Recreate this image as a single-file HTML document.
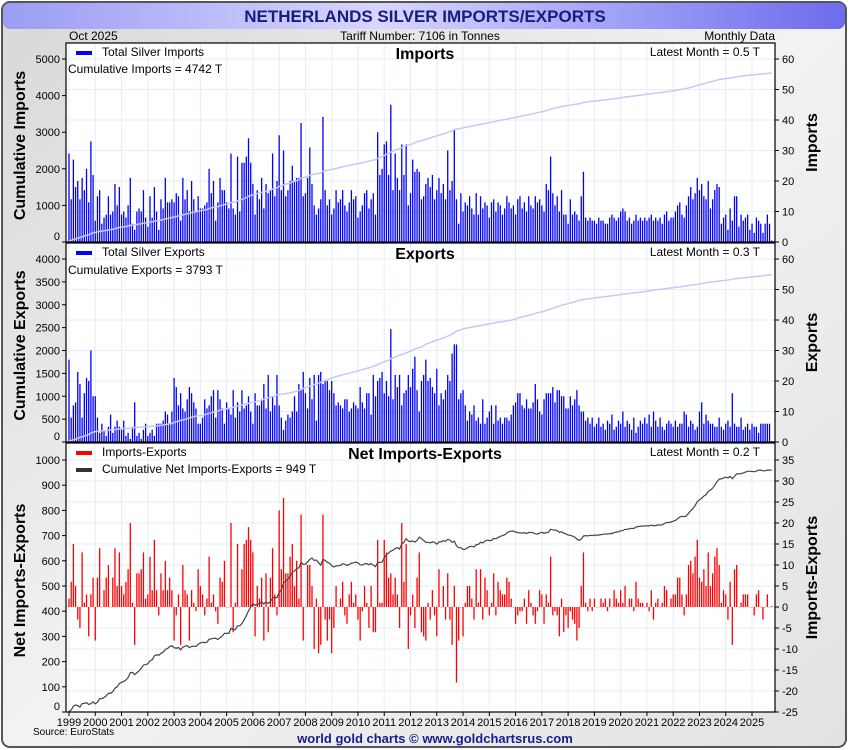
<!DOCTYPE html>
<html><head><meta charset="utf-8"><title>Netherlands Silver Imports/Exports</title>
<style>
html,body{margin:0;padding:0;background:#fff;}
svg{display:block;font-family:"Liberation Sans",Arial,sans-serif;}
</style></head>
<body>
<svg id="chart" width="850" height="750" viewBox="0 0 850 750" xmlns="http://www.w3.org/2000/svg">
<defs>
<linearGradient id="bg" x1="0" y1="0" x2="1" y2="1"><stop offset="0" stop-color="#d8d8d8"/><stop offset="0.5" stop-color="#f2f2f2"/><stop offset="1" stop-color="#e2e2e2"/></linearGradient>
<linearGradient id="tg" x1="0" y1="0" x2="1" y2="0"><stop offset="0" stop-color="#9c9cf4"/><stop offset="0.45" stop-color="#d6d6ff"/><stop offset="1" stop-color="#6c6cee"/></linearGradient>
</defs>
<rect x="2" y="2" width="844" height="745" rx="8" fill="url(#bg)" stroke="#555" stroke-width="2"/>
<rect x="3" y="3" width="842" height="26" rx="7" fill="url(#tg)"/>
<text x="425" y="22" text-anchor="middle" font-size="17" font-weight="bold" fill="#1a1a80">NETHERLANDS SILVER IMPORTS/EXPORTS</text>
<text x="69" y="40" font-size="12">Oct  2025</text>
<text x="420" y="40" text-anchor="middle" font-size="12">Tariff Number: 7106 in Tonnes</text>
<text x="775" y="40" text-anchor="end" font-size="12">Monthly Data</text>
<g id="panels"></g>
<text x="33" y="735" font-size="10">Source: EuroStats</text>
<text x="435" y="743" text-anchor="middle" font-size="13" font-weight="bold" fill="#1a1a90">world gold charts © www.goldchartsrus.com</text>
</svg>
<script>
const imports = [
29,14,27,18,20,14,21,17,24,13,33,22,
7,15,17,6,8,9,15,9,10,19,12,18,
9,10,8,12,21,6,4,10,11,10,17,8,
5,15,8,18,10,4,14,11,21,13,13,14,
13,16,15,7,21,14,17,10,20,14,10,15,
11,11,12,13,24,16,20,7,13,21,17,17,
13,11,29,11,9,28,10,26,26,28,34,26,
19,9,17,14,21,11,19,16,17,29,15,20,
35,17,30,15,17,20,25,20,21,21,39,15,
16,21,31,19,12,9,11,14,41,17,12,14,
9,11,17,13,14,17,12,10,13,17,14,15,
8,10,12,16,17,11,14,16,9,36,22,24,
32,33,22,45,17,29,21,17,32,22,32,12,
16,27,23,24,23,14,15,19,21,18,22,14,
17,21,16,19,14,30,17,20,37,14,6,16,
10,13,12,15,11,9,16,9,15,11,13,12,
8,13,14,10,13,12,9,11,15,13,11,12,
9,14,15,11,13,10,15,12,11,15,13,14,
12,10,19,17,28,16,12,15,10,17,9,9,
6,14,9,10,9,7,15,23,8,7,8,7,
7,6,8,7,7,6,6,8,9,8,7,8,
10,11,10,7,8,6,7,9,7,8,7,8,
7,8,9,7,8,7,8,6,9,10,7,8,
8,10,12,13,9,8,12,15,18,14,16,21,
17,19,15,14,20,11,14,17,19,18,6,8,
9,4,11,7,15,15,5,9,7,8,9,4,
6,3,8,7,6,3,6,9,6,0.5];
const exports_ = [
27,8,12,13,23,19,8,16,21,20,30,15,
15,8,3,6,4,2,5,9,3,5,7,5,
4,7,2,3,1,5,13,2,3,1,4,6,
2,3,4,2,6,6,6,7,10,9,6,10,
21,18,12,16,11,10,14,18,16,13,11,6,
6,8,14,11,12,15,17,8,17,14,11,6,
13,11,9,17,8,13,10,17,11,12,15,10,
6,16,12,12,14,19,11,22,10,15,12,22,
12,8,4,7,9,8,10,15,10,19,17,23,
16,11,21,14,22,7,22,23,19,20,20,17,
20,16,12,13,12,11,14,14,10,11,13,12,
11,18,13,11,16,16,9,22,15,20,21,23,
16,20,15,37,14,22,18,22,12,16,17,22,
18,24,28,17,10,20,22,27,20,21,18,16,
24,12,16,14,17,22,20,29,32,32,14,16,
17,12,7,10,9,12,7,8,6,14,6,8,
10,12,6,12,7,8,6,8,8,7,9,12,
13,16,16,12,11,14,11,11,13,19,14,10,
9,14,16,16,16,18,13,17,17,15,15,11,
11,15,12,14,17,12,10,10,7,8,6,8,
5,6,8,5,6,4,7,6,9,4,5,7,
6,10,5,7,6,4,8,3,5,7,6,8,
6,9,5,10,7,5,8,5,4,6,7,6,
5,7,5,6,6,10,9,5,7,6,4,5,
10,13,6,9,7,6,6,5,5,8,5,4,
6,7,5,16,6,5,5,8,4,5,6,4,
6,5,5,3,6,6,6,6,6,0.3];
const years = [1999,2000,2001,2002,2003,2004,2005,2006,2007,2008,2009,2010,2011,2012,2013,2014,2015,2016,2017,2018,2019,2020,2021,2022,2023,2024,2025];
const impLeftTicks = [0,1000,2000,3000,4000,5000];
const impRightTicks = [0,10,20,30,40,50,60];
const expLeftTicks = [0,500,1000,1500,2000,2500,3000,3500,4000];
const expRightTicks = [0,10,20,30,40,50,60];
const netLeftTicks = [0,100,200,300,400,500,600,700,800,900,1000];
const netRightTicks = [-25,-20,-15,-10,-5,0,5,10,15,20,25,30,35];

const NS='http://www.w3.org/2000/svg';
const root=document.getElementById('panels');
const X0=66, X1=775;
const n = Math.min(imports.length, exports_.length);
function xMonth(i){ return 69 + i*(26.27/12); }
function xYear(y){ return 69 + (y-1999)*26.27; }
function mk(tag, attrs, parent){ const e=document.createElementNS(NS,tag); for(const k in attrs) e.setAttribute(k,attrs[k]); (parent||root).appendChild(e); return e; }
function txt(x,y,s,attrs,parent){ const e=mk('text',Object.assign({x:x,y:y},attrs),parent); e.textContent=s; return e; }

function panel(cfg){
  const g=mk('g',{});
  
  
  const bg=mk('rect',{x:X0,y:cfg.top,width:X1-X0,height:cfg.bot-cfg.top,fill:'#fff',stroke:'none'},g);
  
  
  const yL=v=>cfg.bot-(v-cfg.lMin)/(cfg.lMax-cfg.lMin)*(cfg.bot-cfg.lTop);
  const yR=v=>cfg.bot-(v-cfg.rMin)/(cfg.rMax-cfg.rMin)*(cfg.bot-cfg.rTop);
  years.forEach(y=>{ const x=xYear(y); mk('line',{x1:x,x2:x,y1:cfg.top,y2:cfg.bot,stroke:'#e2eef8','stroke-width':1},g); });
  cfg.rTicks.forEach(v=>{ const y=yR(v); mk('line',{x1:X0,x2:X1,y1:y,y2:y,stroke:'#e2eef8','stroke-width':1},g); });
  cfg.lTicks.forEach(v=>{ const y=yL(v);
    mk('line',{x1:X0-4,x2:X0,y1:y,y2:y,stroke:'#000'},g);
    const t=txt(X0-6,Math.min(y+4,cfg.bot-2),String(v),{'text-anchor':'end','font-size':11},g);
    
    
  });
  cfg.rTicks.forEach(v=>{ const y=yR(v);
    mk('line',{x1:X1,x2:X1+4,y1:y,y2:y,stroke:'#000'},g);
    const t=txt(X1+7,y+4,String(v),{'font-size':11},g);
    
    
  });
  cfg.draw(g,yL,yR);
  const fr=mk('rect',{x:X0,y:cfg.top,width:X1-X0,height:cfg.bot-cfg.top,fill:'none',stroke:'#000','stroke-width':1.2},g);
  
  
  const lt=txt(0,0,cfg.lTitle,{'font-size':16,'font-weight':'bold','text-anchor':'middle',transform:`translate(25,${(cfg.top+cfg.bot)/2+3}) rotate(-90)`},g);
  
  
  const rt=txt(0,0,cfg.rTitle,{'font-size':16,'font-weight':'bold','text-anchor':'middle',transform:`translate(817,${(cfg.top+cfg.bot)/2}) rotate(-90)`},g);
  
  
  const pt=txt(425,cfg.top+16,cfg.title,{'font-size':16,'font-weight':'bold','text-anchor':'middle'},g);
  
  
  return g;
}
function cum(arr){ let s=0; return arr.map(v=>s+=v); }
function line(g,pts,color,w,name){ const p=mk('polyline',{points:pts.map(q=>q[0].toFixed(1)+','+q[1].toFixed(1)).join(' '),fill:'none',stroke:color,'stroke-width':w},g);
  
   }
function bars(g,vals,yR,color,name){ const z=yR(0);
  for(let i=0;i<vals.length;i++){ const y=yR(vals[i]); const x=xMonth(i);
    const r=mk('rect',{x:x-0.65,y:Math.min(y,z),width:1.3,height:Math.max(Math.abs(z-y),0.3),fill:color},g);
    
    
  } }
function legend(g,x,y,color,label){ mk('rect',{x:x,y:y-5,width:16,height:4,fill:color},g);
  const t=txt(x+26,y,label,{'font-size':12},g);
  
   }

const impVals=imports.slice(0,n), expVals=exports_.slice(0,n);
const netVals=impVals.map((v,i)=>v-expVals[i]);

panel({name:'imports-panel',top:43,bot:242,lTop:59,lMin:0,lMax:5000,rTop:59,rMin:0,rMax:60,lTicks:impLeftTicks,rTicks:impRightTicks,
 lTitle:'Cumulative Imports',rTitle:'Imports',title:'Imports',
 draw:(g,yL,yR)=>{ bars(g,impVals,yR,'#0000ff','import-bar');
   line(g,cum(impVals).map((c,i)=>[xMonth(i),yL(c)]),'#c8c8f8',1.5,'cumulative-imports-line');
   legend(g,76,56,'#0000ff','Total Silver Imports');
   txt(68,73,'Cumulative Imports = 4742 T',{'font-size':12},g);
   txt(760,56,'Latest Month = 0.5 T',{'font-size':12,'text-anchor':'end'},g); }});
panel({name:'exports-panel',top:243,bot:442,lTop:259,lMin:0,lMax:4000,rTop:259,rMin:0,rMax:60,lTicks:expLeftTicks,rTicks:expRightTicks,
 lTitle:'Cumulative Exports',rTitle:'Exports',title:'Exports',
 draw:(g,yL,yR)=>{ bars(g,expVals,yR,'#0000ff','export-bar');
   line(g,cum(expVals).map((c,i)=>[xMonth(i),yL(c)]),'#c8c8f8',1.5,'cumulative-exports-line');
   legend(g,76,256,'#0000ff','Total Silver Exports');
   txt(68,274,'Cumulative Exports = 3793 T',{'font-size':12},g);
   txt(760,256,'Latest Month = 0.3 T',{'font-size':12,'text-anchor':'end'},g); }});
panel({name:'net-panel',top:443,bot:712,lTop:460,lMin:0,lMax:1000,rTop:460,rMin:-25,rMax:35,lTicks:netLeftTicks,rTicks:netRightTicks,
 lTitle:'Net Imports-Exports',rTitle:'Imports-Exports',title:'Net Imports-Exports',
 draw:(g,yL,yR)=>{ bars(g,netVals,yR,'#ff0000','net-bar');
   line(g,cum(netVals).map((c,i)=>[xMonth(i),yL(c)]),'#444',1.2,'cumulative-net-line');
   legend(g,76,456,'#ff0000','Imports-Exports');
   legend(g,76,473,'#333','Cumulative Net Imports-Exports = 949 T');
   txt(760,456,'Latest Month = 0.2 T',{'font-size':12,'text-anchor':'end'},g); }});

const xa=mk('g',{});


years.forEach(y=>{ const x=xYear(y);
  mk('line',{x1:x,x2:x,y1:712,y2:716,stroke:'#000'},xa);
  const t=txt(x,726,String(y),{'font-size':11,'text-anchor':'middle'},xa);
  
  
});
</script>
</body></html>
